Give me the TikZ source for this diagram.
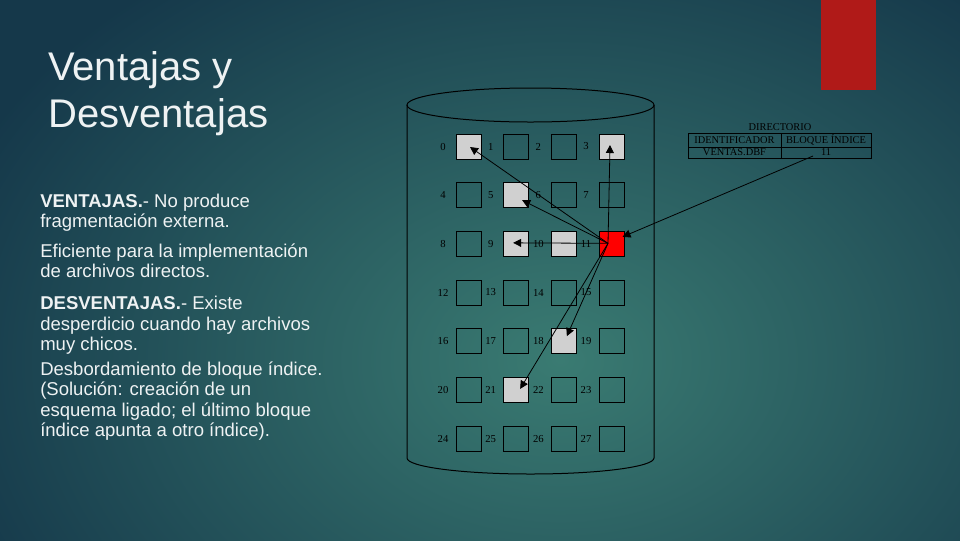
\documentclass[tikz,border=0pt]{standalone}
\usepackage{fontspec}
\setmainfont{Liberation Sans}
\newfontfamily\dgm{Liberation Serif}
\usetikzlibrary{arrows.meta}
\definecolor{bgin}{HTML}{3A7B72}
\definecolor{bgout}{HTML}{15384A}
\definecolor{txt}{HTML}{EEF2F3}
\definecolor{blkgray}{HTML}{D0D0D0}
\definecolor{blkred}{HTML}{FF0000}
\definecolor{barred}{HTML}{B01A18}
\begin{document}
\begin{tikzpicture}[x=0.75pt,y=-0.75pt,
  blk/.style={draw=black,line width=0.75pt,minimum size=18.75pt,inner sep=0pt},
  num/.style={font=\dgm\fontsize{8}{9}\selectfont,inner sep=0pt,text=black},
  arr/.style={draw=black,line width=0.6pt,-{Triangle[length=6pt,width=6pt]}},
  body/.style={anchor=base west,inner sep=0pt,text=txt,font=\fontsize{13.9}{16}\selectfont},
  ttl/.style={anchor=base west,inner sep=0pt,text=txt,font=\fontsize{30}{35}\selectfont},
  cell/.style={draw=black,line width=0.6pt,inner sep=0pt,font=\dgm\fontsize{7.8}{8.5}\selectfont,text=black},
  cyl/.style={draw=black,line width=0.75pt}]
\useasboundingbox (0,0) rectangle (960,540);
\begin{scope}
\clip (0,0) rectangle (960,540);
\fill[bgout] (0,0) rectangle (960,540);
\shade[inner color=bgin,outer color=bgout] (560,360) ellipse [x radius=650,y radius=480];
\end{scope}
\fill[barred] (821,0) rectangle (876,90);
% title
\node[ttl] (t1) at (48,80) {Ventajas y};
\node[ttl] (t2) at (48,127) {Desventajas};
% body
\node[body] (p1a) at (40,207) {\textbf{VENTAJAS.}- No produce};
\node[body] (p1b) at (40,227) {fragmentación externa.};
\node[body] (p2a) at (40,257) {Eficiente para la implementación};
\node[body] (p2b) at (40,277) {de archivos directos.};
\node[body] (p3a) at (40,309) {\textbf{DESVENTAJAS.}- Existe};
\node[body] (p3b) at (40,330) {desperdicio cuando hay archivos};
\node[body] (p3c) at (40,350) {muy chicos.};
\node[body] (p4a) at (40,375) {Desbordamiento de bloque índice.};
\node[body] (p4b) at (40,395) {(Solución: creación de un};
\node[body] (p4c) at (40,416) {esquema ligado; el último bloque};
\node[body] (p4d) at (40,436) {índice apunta a otro índice).};
% cylinder
\draw[cyl] (530.5,105) ellipse [x radius=123.5,y radius=17];
\draw[cyl] (407,105) -- (407,458) arc[start angle=180,end angle=0,x radius=123.5,y radius=16] -- (654,105);
% blocks
\foreach \n/\i/\j/\f in {0/0/0/blkgray,1/1/0/none,2/2/0/none,3/3/0/blkgray,
  4/0/1/none,5/1/1/blkgray,6/2/1/none,7/3/1/none,
  8/0/2/none,9/1/2/blkgray,10/2/2/blkgray,11/3/2/blkred,
  12/0/3/none,13/1/3/none,14/2/3/none,15/3/3/none,
  16/0/4/none,17/1/4/none,18/2/4/blkgray,19/3/4/none,
  20/0/5/none,21/1/5/blkgray,22/2/5/none,23/3/5/none,
  24/0/6/none,25/1/6/none,26/2/6/none,27/3/6/none}{
  \node[blk,fill=\f] (b\n) at ({468.5+\i*47.67},{146.5+\j*48.67}) {};
  \node[num] (l\n) at ({443+\i*47.67},{146.5+\j*48.67}) {\n};
}
% directory
\node[cell,draw=none] (dt) at (780,127) {DIRECTORIO};
\node[cell,minimum width=69.75pt,minimum height=10.5pt] (h1) at (734.5,140) {IDENTIFICADOR};
\node[cell,minimum width=67.5pt,minimum height=10.5pt] (h2) at (826,140) {BLOQUE ÍNDICE};
\node[cell,minimum width=69.75pt,minimum height=8.25pt] (v1) at (734.5,152.5) {VENTAS.DBF};
\node[cell,minimum width=67.5pt,minimum height=8.25pt] (v2) at (826,152.5) {11};
% arrows
\coordinate (s) at ([shift={(-3.5,-0.5)}]b11.center);
\draw[arr] (s) -- ([shift={(1.5,0.5)}]b0.center);
\draw[arr] (s) -- ([shift={(-1.5,-1.5)}]b3.center);
\draw[arr] (s) -- ([shift={(6,5)}]b5.center);
\draw[arr] (s) -- ([shift={(-3,-1)}]b9.center);
\draw[arr] (s) -- ([shift={(3,-5)}]b18.center);
\draw[arr] (s) -- ([shift={(4,-1)}]b21.center);
\draw[arr] ([shift={(-13,3.5)}]v2.center) -- ([shift={(-2,6)}]b11.north east);
\end{tikzpicture}
\end{document}
